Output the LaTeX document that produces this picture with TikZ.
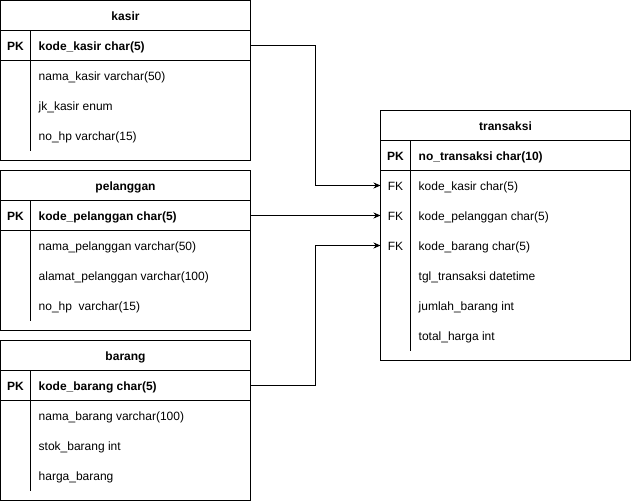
\documentclass[tikz,border=0pt]{standalone}
\usepackage{fontspec}
\setmainfont{Liberation Sans}
\usetikzlibrary{arrows.meta}
\tikzset{
  tbl/.style={draw, line width=1pt, minimum width=250pt, anchor=north west, inner sep=0pt, outer sep=0pt},
  rowbox/.style={minimum width=250pt, minimum height=30pt, anchor=north west, inner sep=0pt, outer sep=0pt},
  sep/.style={line width=1pt},
  ttl/.style={anchor=mid, inner sep=0pt, yshift=-2.5pt, font=\fontsize{12}{14}\selectfont\bfseries},
  keyb/.style={anchor=mid, inner sep=0pt, yshift=-2.5pt, font=\fontsize{12}{14}\selectfont\bfseries},
  keyn/.style={anchor=mid, inner sep=0pt, yshift=-2.5pt, font=\fontsize{12}{14}\selectfont},
  fieldb/.style={anchor=mid west, inner sep=0pt, yshift=-2.5pt, font=\fontsize{12}{14}\selectfont\bfseries},
  field/.style={anchor=mid west, inner sep=0pt, yshift=-2.5pt, font=\fontsize{12}{14}\selectfont},
  conn/.style={line width=1pt, -{Stealth[length=7pt,width=6pt]}},
}
\begin{document}
\begin{tikzpicture}[x=1pt,y=-1pt]
\useasboundingbox (0,0) rectangle (631,501);
\begin{scope}[shift={(0.5,0.5)}]
% kasir
\node[tbl, minimum height=160pt] (kasir) at (0,0) {};
\node[ttl] (kasirt) at (125,15) {kasir};
\node[rowbox] (kasirpk) at (0,30) {};
\draw[sep] (0,30) -- (250,30);
\draw[sep] (0,60) -- (250,60);
\draw[sep] (30,30) -- (30,150);
\node[keyb] (kasirk) at (15,45) {PK};
\node[fieldb] (kasirf0) at (38,45) {kode\_kasir char(5)};
\node[field] (kasirf1) at (38,75) {nama\_kasir varchar(50)};
\node[field] (kasirf2) at (38,105) {jk\_kasir enum};
\node[field] (kasirf3) at (38,135) {no\_hp varchar(15)};
% pelanggan
\node[tbl, minimum height=160pt] (pel) at (0,170) {};
\node[ttl] (pelt) at (125,185) {pelanggan};
\node[rowbox] (pelpk) at (0,200) {};
\draw[sep] (0,200) -- (250,200);
\draw[sep] (0,230) -- (250,230);
\draw[sep] (30,200) -- (30,320);
\node[keyb] (pelk) at (15,215) {PK};
\node[fieldb] (pelf0) at (38,215) {kode\_pelanggan char(5)};
\node[field] (pelf1) at (38,245) {nama\_pelanggan varchar(50)};
\node[field] (pelf2) at (38,275) {alamat\_pelanggan varchar(100)};
\node[field] (pelf3) at (38,305) {no\_hp~ varchar(15)};
% barang
\node[tbl, minimum height=160pt] (bar) at (0,340) {};
\node[ttl] (bart) at (125,355) {barang};
\node[rowbox] (barpk) at (0,370) {};
\draw[sep] (0,370) -- (250,370);
\draw[sep] (0,400) -- (250,400);
\draw[sep] (30,370) -- (30,490);
\node[keyb] (bark) at (15,385) {PK};
\node[fieldb] (barf0) at (38,385) {kode\_barang char(5)};
\node[field] (barf1) at (38,415) {nama\_barang varchar(100)};
\node[field] (barf2) at (38,445) {stok\_barang int};
\node[field] (barf3) at (38,475) {harga\_barang};
% transaksi
\node[tbl, minimum height=250pt] (tr) at (380,110) {};
\node[ttl] (trt) at (505,125) {transaksi};
\draw[sep] (380,140) -- (630,140);
\draw[sep] (380,170) -- (630,170);
\draw[sep] (410,140) -- (410,350);
\node[keyb] (trk) at (395,155) {PK};
\node[fieldb] (trf0) at (418,155) {no\_transaksi char(10)};
\node[rowbox] (tfk1) at (380,170) {};
\node[rowbox] (tfk2) at (380,200) {};
\node[rowbox] (tfk3) at (380,230) {};
\node[keyn] (trk1) at (395,185) {FK};
\node[keyn] (trk2) at (395,215) {FK};
\node[keyn] (trk3) at (395,245) {FK};
\node[field] (trf1) at (418,185) {kode\_kasir char(5)};
\node[field] (trf2) at (418,215) {kode\_pelanggan char(5)};
\node[field] (trf3) at (418,245) {kode\_barang char(5)};
\node[field] (trf4) at (418,275) {tgl\_transaksi datetime};
\node[field] (trf5) at (418,305) {jumlah\_barang int};
\node[field] (trf6) at (418,335) {total\_harga int};
% connectors
\draw[conn] (kasirpk.east) -- ++(65,0) |- (tfk1.west);
\draw[conn] (pelpk.east) -- (tfk2.west);
\draw[conn] (barpk.east) -- ++(65,0) |- (tfk3.west);
\end{scope}
\end{tikzpicture}
\end{document}
